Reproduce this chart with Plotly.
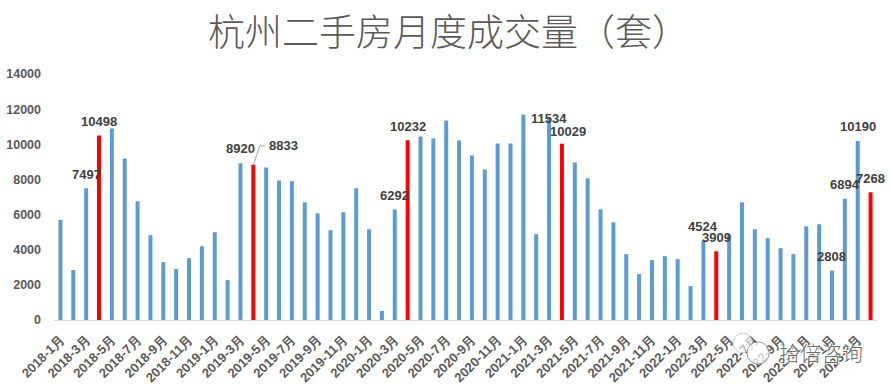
import plotly.graph_objects as go

years_months = [(y, m) for y in range(2018, 2024) for m in range(1, 13)][:64]
months = [f"{y}-{m}月" for y, m in years_months]
values = [5700, 2840, 7497, 10498, 10900, 9195, 6754, 4825, 3292, 2895, 3519, 4200, 4995, 2270,
          8920, 8833, 8684, 7946, 7890, 6698, 6073, 5108, 6130, 7492, 5165, 511, 6292, 10232,
          10444, 10330, 11352, 10217, 9365, 8571, 10046, 10046, 11692, 4881, 11534, 10029,
          8968, 8060, 6300, 5562, 3746, 2611, 3405, 3632, 3462, 1930, 4524, 3909, 4825, 6698,
          5165, 4654, 4087, 3746, 5335, 5449, 2808, 6894, 10190, 7268]
highlight = {3, 15, 27, 39, 51, 63}
colors = ["#FF0000" if i in highlight else "#5B9BD5" for i in range(len(values))]
tick_labels = months[::2]
# (bar index, horizontal pixel offset, pixel offset of label centre above bar top)
labelled = [(2, 0, 14), (3, 0, 14), (14, 0, 15), (15, 30, 19), (26, 0, 14), (27, 0, 14),
            (38, 0, -1), (39, 6, 12), (50, 0, 14), (51, 0, 14), (60, 0, 14),
            (61, 0, 14), (62, 0, 14), (63, 0, 14)]
label_font = dict(family="Liberation Sans", size=13, color="#404040")

fig = go.Figure(go.Bar(x=list(range(len(values))), y=values, marker_color=colors,
                       marker_line_width=0, width=0.31, hoverinfo="skip"))
for i, dx, dy in labelled:
    fig.add_annotation(x=i, y=values[i], text=f"<b>{values[i]}</b>", showarrow=False,
                       xshift=dx, yshift=dy, yanchor="middle", xanchor="center", font=label_font)
fig.add_annotation(xref="paper", yref="paper", x=0.479, y=1, xanchor="center", yanchor="bottom",
                   yshift=15, showarrow=False, text="杭州二手房月度成交量（套）",
                   font=dict(family="Noto Sans CJK SC", size=37, color="#595959", weight=300))
fig.add_annotation(xref="paper", yref="paper", x=0.985, y=-0.13, yanchor="middle", showarrow=False,
                   text="拾倍咨询",
                   font=dict(family="Noto Sans CJK SC", size=21, color="rgba(90,90,90,0.9)", weight=300,
                             shadow="1px 1px 1px white, -1px -1px 1px white"))

leader = dict(type="line", xref="x", yref="y", xsizemode="pixel", ysizemode="pixel",
              xanchor=15, yanchor=values[15], line=dict(color="#A6A6A6", width=1))
fig.update_layout(
    width=892, height=389, margin=dict(l=54, r=15, t=74, b=69, autoexpand=False), bargap=0.69,
    paper_bgcolor="white", plot_bgcolor="white", showlegend=False,
    font=dict(family="Liberation Sans", color="#595959"),
    xaxis=dict(range=[-0.5, 63.5], tickmode="array", tickvals=list(range(0, 64, 2)),
               ticktext=tick_labels, tickangle=-45, showgrid=False, ticks="", automargin=False,
               showline=True, linecolor="#D9D9D9", linewidth=1, ticklabelstandoff=6,
               tickfont=dict(size=13, weight="bold", color="#595959")),
    yaxis=dict(range=[0, 14000], dtick=2000, tickformat="d", showgrid=False, zeroline=False,
               ticks="", automargin=False, ticklabelstandoff=12,
               tickfont=dict(size=12.5, weight="bold", color="#595959")),
    shapes=[
        dict(leader, x0=0, x1=6.5, y0=0, y1=19),
        dict(leader, x0=6.5, x1=12, y0=19, y1=19),
        dict(type="circle", xref="paper", yref="paper", x0=0.825, x1=0.849, y0=-0.133, y1=-0.053,
             fillcolor="rgba(255,255,255,0.6)", line=dict(color="rgba(170,170,170,0.6)", width=1)),
        dict(type="circle", xref="paper", yref="paper", x0=0.842, x1=0.869, y0=-0.179, y1=-0.089,
             fillcolor="rgba(255,255,255,0.75)", line=dict(color="rgba(130,130,130,0.8)", width=1)),
    ],
)
fig.write_html("out.html", config={"displayModeBar": False},
               post_script="document.body.style.margin='0';")
